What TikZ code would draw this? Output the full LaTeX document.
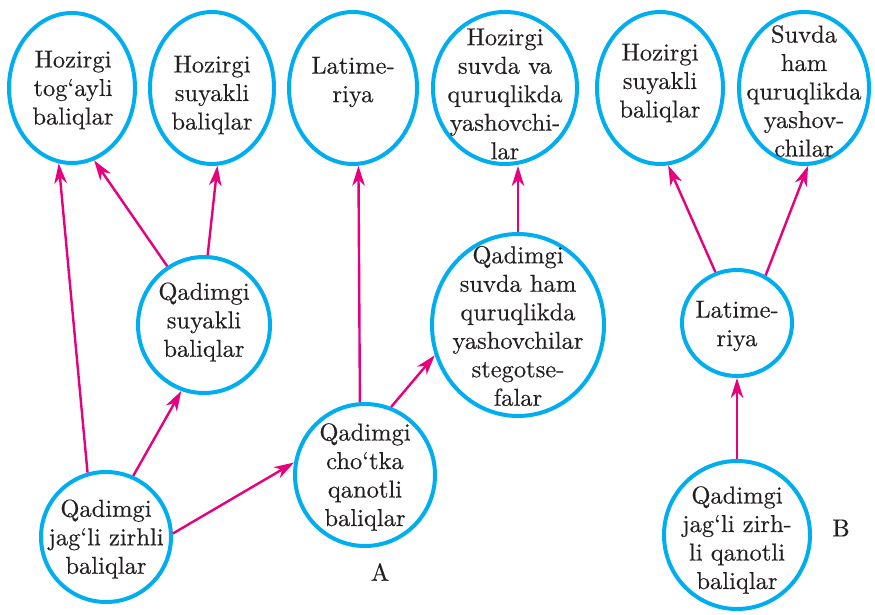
\documentclass[tikz,border=0pt]{standalone}
\usepackage{fontspec}
\setmainfont{lmroman10-regular}[Extension=.otf,FakeBold=0.35]
\usetikzlibrary{shapes.geometric,arrows.meta}
\definecolor{cyanline}{HTML}{00AEEF}
\definecolor{magline}{HTML}{E6007E}
\definecolor{txt}{HTML}{231F20}
\begin{document}
\begin{tikzpicture}[x=1pt,y=-1pt,
 oval/.style={ellipse, draw=cyanline, line width=4pt, inner sep=0pt},
 lbl/.style={align=center, text=txt, font=\fontsize{24.5}{28.5}\selectfont, inner sep=0pt},
 arr/.style={draw=magline, line width=2.4pt, -{Stealth[length=20pt,width=12.5pt,inset=6pt]}},
]
\useasboundingbox (0,0) rectangle (875,615);
% ellipses
\node[oval, minimum width=126pt, minimum height=150pt] (e1) at (72,88) {};
\node[oval, minimum width=124pt, minimum height=152pt] (e2) at (212,88) {};
\node[oval, minimum width=128pt, minimum height=152pt] (e3) at (353,88) {};
\node[oval, minimum width=144pt, minimum height=152pt] (e4) at (505,88) {};
\node[oval, minimum width=126pt, minimum height=152pt] (e5) at (660,88) {};
\node[oval, minimum width=130pt, minimum height=152pt] (e6) at (804,88) {};
\node[oval, minimum width=132pt, minimum height=136pt] (e7) at (204,325) {};
\node[oval, minimum width=172pt, minimum height=182pt] (e8) at (518,325) {};
\node[oval, minimum width=110pt, minimum height=106pt] (e9) at (737,323) {};
\node[oval, minimum width=130pt, minimum height=130pt] (e10) at (106,537) {};
\node[oval, minimum width=140pt, minimum height=142pt] (e11) at (365,475) {};
\node[oval, minimum width=146pt, minimum height=148pt] (e12) at (737,535) {};
% texts
\node[lbl] (t1) at (73,90) {Hozirgi\\tog‘ayli\\baliqlar};
\node[lbl] (t2) at (212,95) {Hozirgi\\suyakli\\baliqlar};
\node[lbl] (t3) at (353,82) {Latime-\\riya};
\node[lbl] (t4) at (505,94) {Hozirgi\\suvda va\\quruqlikda\\yashovchi-\\lar};
\node[lbl] (t5) at (660,83) {Hozirgi\\suyakli\\baliqlar};
\node[lbl] (t6) at (804,91) {Suvda\\ham\\quruqlikda\\yashov-\\chilar};
\node[lbl] (t7) at (204,322) {Qadimgi\\suyakli\\baliqlar};
\node[lbl] (t8) at (518,326) {Qadimgi\\suvda ham\\quruqlikda\\yashovchilar\\stegotse-\\falar};
\node[lbl] (t9) at (737,326) {Latime-\\riya};
\node[lbl] (t10) at (106,539) {Qadimgi\\jag‘li zirhli\\baliqlar};
\node[lbl] (t11) at (365,477) {Qadimgi\\cho‘tka\\qanotli\\baliqlar};
\node[lbl] (t12) at (737,540) {Qadimgi\\jag‘li zirh-\\li qanotli\\baliqlar};
\node[lbl] (la) at (380,572) {A};
\node[lbl] (lb) at (841,528) {B};
% connectors
\draw[arr] (e10.106) -- (e1.-100);
\draw[arr] (e7.122) -- (e1.-73);
\draw[arr] (e7.87) -- (e2.-86);
\draw[arr] (e10.66) -- (e7.-109);
\draw[arr] (e10.3) -- (e11.170);
\draw[arr] (e11.94) -- (e3.-86);
\draw[arr] (e11.69) -- (e8.-160);
\draw[arr] (e8.north) -- (e8.north |- e4.south);
\draw[arr] (e9.113) -- (e5.-84);
\draw[arr] (e9.59) -- (e6.-87);
\draw[arr] (e12.north) -- (e12.north |- e9.south);
\end{tikzpicture}
\end{document}
